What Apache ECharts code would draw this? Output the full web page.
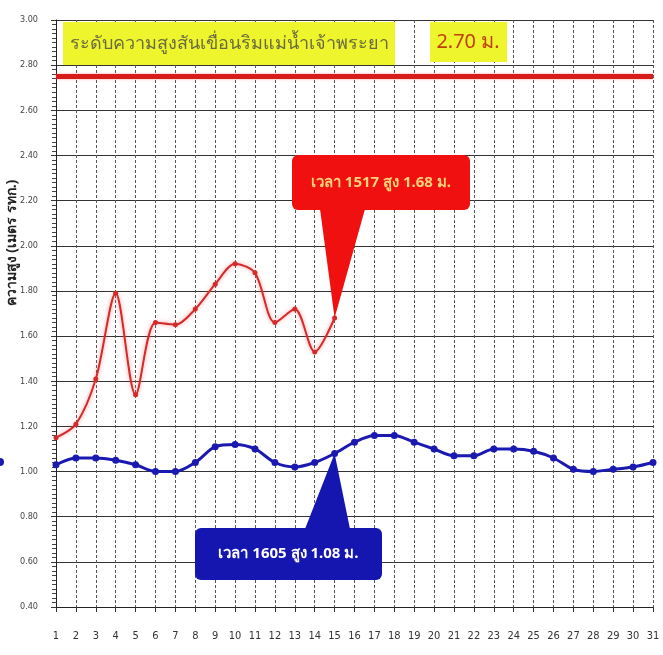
<!DOCTYPE html>
<html><head><meta charset="utf-8">
<script src="https://cdn.jsdelivr.net/npm/echarts@6/dist/echarts.min.js"></script>
<style>html,body{margin:0;padding:0;background:#fff}#c{width:663px;height:655px}</style>
</head><body><div id="c"></div>
<script>
const days = ['1','2','3','4','5','6','7','8','9','10','11','12','13','14','15','16','17','18','19','20','21','22','23','24','25','26','27','28','29','30','31'];
const redLevel = [1.15,1.21,1.41,1.79,1.34,1.66,1.65,1.72,1.83,1.92,1.88,1.66,1.72,1.53,1.68];
const blueLevel = [1.03,1.06,1.06,1.05,1.03,1.00,1.00,1.04,1.11,1.12,1.10,1.04,1.02,1.04,1.08,1.13,1.16,1.16,1.13,1.10,1.07,1.07,1.10,1.10,1.09,1.06,1.01,1.00,1.01,1.02,1.04];
const bankLevel = 2.75;
const yTicks = ['0.40','0.60','0.80','1.00','1.20','1.40','1.60','1.80','2.00','2.20','2.40','2.60','2.80','3.00'];
const titleText = 'ระดับความสูงสันเขื่อนริมแม่น้ำเจ้าพระยา';
const bankText = '2.70 ม.';
const redNote = {day: 15, value: 1.68, text: 'เวลา 1517 สูง 1.68 ม.'};
const blueNote = {day: 15, value: 1.08, text: 'เวลา 1605 สูง 1.08 ม.'};
const yTitle = 'ความสูง (เมตร รทก.)';

const chart = echarts.init(document.getElementById('c'));
const axisFont = "'Liberation Sans Narrow','DejaVu Sans Condensed',sans-serif";
chart.setOption({
  animation: false,
  backgroundColor: '#fff',
  grid: {left: 56, right: 10, top: 20, bottom: 48, containLabel: false, outerBoundsMode: 'none'},
  xAxis: {
    type: 'category', data: days, boundaryGap: false,
    axisLine: {lineStyle: {color: '#222', width: 1}},
    axisTick: {show: true, alignWithLabel: true, length: 5, lineStyle: {color: '#333'}},
    axisLabel: {color: '#333', fontSize: 11, fontFamily: axisFont, margin: 24},
    splitLine: {show: true, lineStyle: {color: '#555', type: [3, 2], width: 1}}
  },
  yAxis: {
    type: 'value', min: 0.4, max: 3.0, interval: 0.2,
    axisLine: {show: true, lineStyle: {color: '#222'}},
    axisTick: {show: true, length: 5, lineStyle: {color: '#333'}},
    minorTick: {show: true, splitNumber: 10, length: 4, lineStyle: {color: '#444'}},
    axisLabel: {color: '#444', fontSize: 9, fontFamily: axisFont, margin: 18,
      formatter: v => yTicks[Math.round((v - 0.4) / 0.2)] || v.toFixed(2)},
    splitLine: {show: true, lineStyle: {color: '#333', width: 1.2}}
  },
  series: [
    {
      type: 'line', data: redLevel, smooth: 0.3, symbol: 'circle', symbolSize: 5,
      lineStyle: {color: '#d42a2a', width: 2, shadowColor: 'rgba(255,80,80,0.6)', shadowBlur: 4},
      itemStyle: {color: '#d42a2a'}, z: 4,
      markLine: {
        silent: true, symbol: 'none', label: {show: false},
        lineStyle: {color: '#d81b1b', width: 5, type: 'solid', shadowColor: 'rgba(255,100,100,0.6)', shadowBlur: 3},
        data: [{yAxis: bankLevel}]
      }
    },
    {
      type: 'line', data: blueLevel, smooth: 0.3, symbol: 'circle', symbolSize: 7,
      lineStyle: {color: '#1a1ab0', width: 3},
      itemStyle: {color: '#1a1ab0'}, z: 4
    }
  ]
});

function noteGraphics(note, color, textColor, boxLeft, boxTop, boxW, boxH, baseL, baseR) {
  const tip = chart.convertToPixel({xAxisIndex: 0, yAxisIndex: 0}, [note.day - 1, note.value]);
  const baseY = boxTop < tip[1] ? boxTop + boxH - 1 : boxTop + 1;
  return [
    {type: 'polygon', z: 10, shape: {points: [[baseL, baseY], [baseR, baseY], tip]}, style: {fill: color}},
    {type: 'rect', z: 10, shape: {x: boxLeft, y: boxTop, width: boxW, height: boxH, r: 6}, style: {fill: color}},
    {type: 'text', z: 11, style: {x: boxLeft + boxW / 2, y: boxTop + boxH / 2, text: note.text, fill: textColor,
      font: "bold 15px 'Noto Sans','DejaVu Sans',sans-serif", align: 'center', verticalAlign: 'middle'}}
  ];
}

chart.setOption({
  graphic: [
    {type: 'rect', z: 9, shape: {x: 63, y: 22, width: 332, height: 43}, style: {fill: '#eef52c'}},
    {type: 'text', z: 10, style: {x: 229, y: 44, text: titleText, fill: '#6a6a42',
      font: "18px 'Noto Sans','DejaVu Sans',sans-serif", align: 'center', verticalAlign: 'middle'}},
    {type: 'rect', z: 9, shape: {x: 430, y: 22, width: 77, height: 40}, style: {fill: '#eef52c'}},
    {type: 'text', z: 10, style: {x: 468, y: 42, text: bankText, fill: '#c0400c',
      font: "20px 'Liberation Sans Narrow','Noto Sans',sans-serif", align: 'center', verticalAlign: 'middle'}},
    {type: 'text', z: 10, rotation: Math.PI / 2, x: 12, y: 243,
      style: {text: yTitle, fill: '#222', font: "bold 14px 'Noto Sans','DejaVu Sans',sans-serif",
        align: 'center', verticalAlign: 'middle'}},
    {type: 'circle', z: 10, shape: {cx: 0, cy: 462, r: 4}, style: {fill: '#1a1ab0'}},
    ...noteGraphics(redNote, '#f01010', '#ffd37a', 292, 155, 178, 55, 320, 365),
    ...noteGraphics(blueNote, '#1515b0', '#ffffff', 195, 528, 187, 52, 305, 350)
  ]
});
</script></body></html>
